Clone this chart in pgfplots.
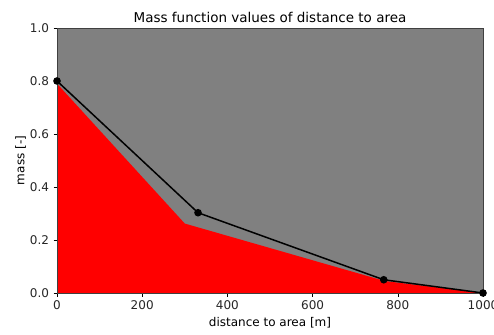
\documentclass[border=0pt]{standalone}
\usepackage{fontspec}
\setmainfont{DejaVu Sans}
\usepackage{pgfplots}
\pgfplotsset{compat=1.18}
\begin{document}
\begin{tikzpicture}
\begin{axis}[
  scale only axis,
  width=426pt, height=265pt,
  xmin=0, xmax=1000, ymin=0, ymax=1,
  xtick={0,200,400,600,800,1000},
  ytick={0,0.2,0.4,0.6,0.8,1.0},
  yticklabels={0.0,0.2,0.4,0.6,0.8,1.0},
  /pgf/number format/assume math mode=true,
  /pgf/number format/1000 sep={},
  tick align=outside,
  tick pos=left,
  major tick length=3.5pt,
  tick style={black, line width=0.6pt},
  axis line style={black!75, line width=0.6pt},
  ticklabel style={font=\fontsize{12}{14}\selectfont, text=black!85},
  xticklabel style={yshift=-1pt},
  yticklabel style={xshift=-1pt},
  title={Mass function values of distance to area},
  title style={font=\fontsize{13.5}{16}\selectfont, yshift=-4pt},
  xlabel={distance to area [m]},
  ylabel={mass [-]},
  label style={font=\fontsize{12}{14}\selectfont},
  xlabel style={yshift=0pt},
  ylabel style={yshift=-3pt},
  axis background/.style={fill=gray},
  axis on top,
]
\addplot[fill=red, draw=none] coordinates {(0,0.79) (300,0.262) (770,0.045) (1000,0)} \closedcycle;
\addplot[black, line width=1.5pt, mark=*, mark size=3pt] coordinates {(0,0.8) (331,0.303) (767,0.05) (1000,0)};
\end{axis}
\pgfresetboundingbox
\path ([shift={(-57pt,-41pt)}]current axis.south west) rectangle ([shift={(11pt,28pt)}]current axis.north east);
\end{tikzpicture}
\end{document}
